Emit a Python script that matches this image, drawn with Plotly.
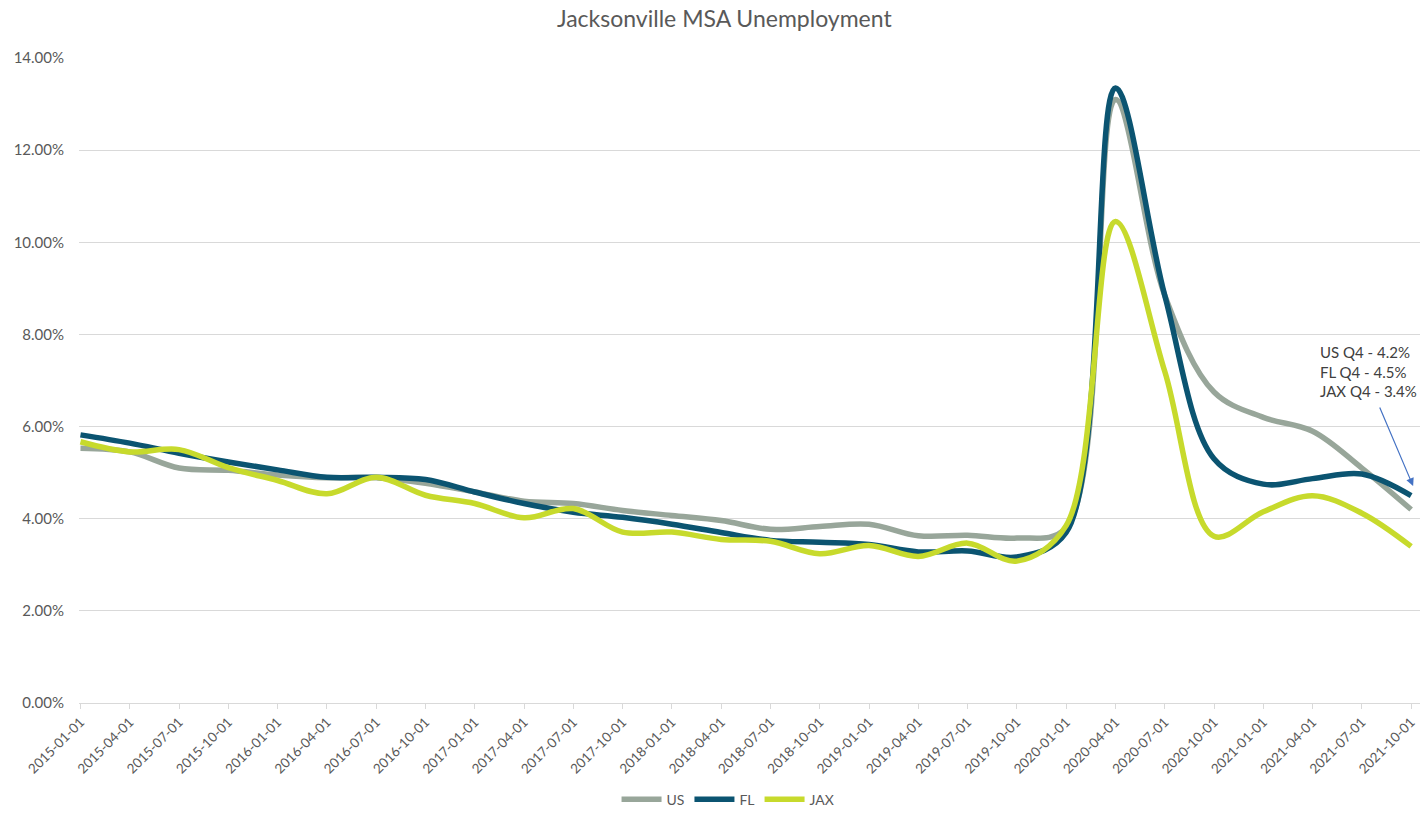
import plotly.graph_objects as go

quarters = ["2015-01-01", "2015-04-01", "2015-07-01", "2015-10-01",
            "2016-01-01", "2016-04-01", "2016-07-01", "2016-10-01",
            "2017-01-01", "2017-04-01", "2017-07-01", "2017-10-01",
            "2018-01-01", "2018-04-01", "2018-07-01", "2018-10-01",
            "2019-01-01", "2019-04-01", "2019-07-01", "2019-10-01",
            "2020-01-01", "2020-04-01", "2020-07-01", "2020-10-01",
            "2021-01-01", "2021-04-01", "2021-07-01", "2021-10-01"]

us = [5.53, 5.45, 5.10, 5.05, 4.95, 4.89, 4.89, 4.77,
      4.58, 4.38, 4.33, 4.18, 4.07, 3.96, 3.77, 3.83,
      3.88, 3.63, 3.64, 3.58, 3.80, 13.10, 8.85, 6.75,
      6.20, 5.90, 5.10, 4.20]
fl = [5.82, 5.64, 5.42, 5.23, 5.06, 4.90, 4.90, 4.85,
      4.58, 4.33, 4.14, 4.03, 3.88, 3.70, 3.53, 3.49,
      3.44, 3.28, 3.30, 3.17, 3.70, 13.35, 8.85, 5.30,
      4.75, 4.87, 4.97, 4.50]
jax = [5.67, 5.45, 5.50, 5.11, 4.83, 4.54, 4.90, 4.51,
       4.33, 4.02, 4.22, 3.71, 3.71, 3.55, 3.51, 3.24,
       3.42, 3.18, 3.47, 3.08, 3.85, 10.45, 7.20, 3.62,
       4.15, 4.50, 4.12, 3.40]

series_names = ["US", "FL", "JAX"]
series_colors = ["#98A69A", "#0B5471", "#C7DA2C"]
y_ticks = [0, 2, 4, 6, 8, 10, 12, 14]
note_lines = ["US Q4 - 4.2%", "FL Q4 - 4.5%", "JAX Q4 - 3.4%"]

xs = list(range(len(quarters)))
font_family = "Lato, 'Open Sans', Arial, sans-serif"
text_color = "#595959"

fig = go.Figure()
for name, vals, col in zip(series_names, [us, fl, jax], series_colors):
    fig.add_trace(go.Scatter(
        x=xs, y=vals, name=name, mode="lines",
        line=dict(color=col, width=5.5, shape="spline", smoothing=1.0),
    ))

fig.update_layout(
    width=1423, height=820,
    margin=dict(l=79, r=3, t=58, b=117),
    paper_bgcolor="white", plot_bgcolor="white",
    font=dict(family=font_family, color=text_color, size=14),
    title=dict(text="Jacksonville MSA Unemployment", x=0.509, xref="container",
               y=0.977, yref="container", xanchor="center", yanchor="middle",
               font=dict(size=23, color=text_color, family=font_family)),
    showlegend=True,
    legend=dict(orientation="h", x=0.484, xanchor="center", y=-0.150, yanchor="middle",
                font=dict(size=14, color=text_color), itemwidth=40,
                bgcolor="rgba(0,0,0,0)", traceorder="normal"),
    xaxis=dict(
        range=[-0.03, 27.18], tickvals=xs, ticktext=quarters, tickangle=-45,
        showgrid=False, zeroline=False, showline=True, linecolor="#D9D9D9", linewidth=1,
        ticks="outside", ticklen=5, tickcolor="#D9D9D9",
        tickfont=dict(size=13.5, color=text_color),
    ),
    yaxis=dict(
        range=[0, 14], tickvals=y_ticks, ticktext=[f"{v:.2f}%" for v in y_ticks],
        showgrid=True, gridcolor="#D9D9D9", gridwidth=1, zeroline=False,
        showline=False, ticks="", tickfont=dict(size=15, color=text_color),
        ticklabelstandoff=14,
    ),
)

fig.add_annotation(
    x=25.11, y=7.2, xref="x", yref="y", text="<br>".join(note_lines),
    showarrow=False, xanchor="left", yanchor="middle", align="left",
    font=dict(size=15, color="#404040", family=font_family),
)
fig.add_annotation(
    x=27.04, y=4.71, xref="x", yref="y", ax=-34, ay=-80, axref="pixel", ayref="pixel",
    text="", showarrow=True, arrowhead=2, arrowsize=1.3, arrowwidth=1.2,
    arrowcolor="#4472C4",
)

fig.write_html("out.html")
